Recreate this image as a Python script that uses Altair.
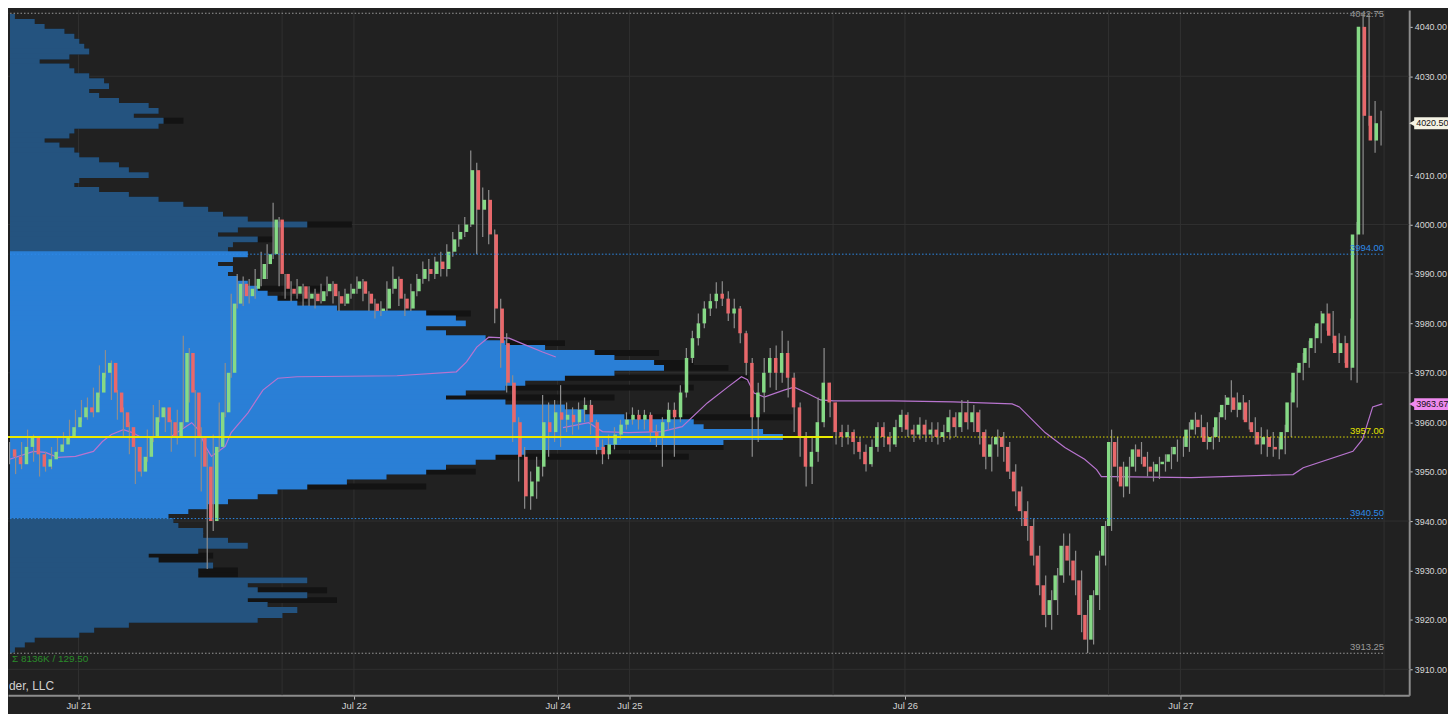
import altair as alt
import pandas as pd

# ---------------- data ----------------
# 30-minute OHLC bars (ES), sessions Jul 20 18:00 -> Jul 27 17:00
first_open = 3954.5

close_s1 = [3953, 3951.5, 3955, 3957, 3953.5, 3951, 3952.5, 3954, 3955.5, 3957,
            3959, 3961, 3963, 3962, 3966, 3970, 3972, 3966, 3962, 3959,
            3955, 3950, 3953, 3957, 3961, 3963, 3960, 3957, 3960, 3974,
            3966, 3957, 3951, 3940, 3955, 3962, 3970, 3984, 3988, 3985.5,
            3987, 3989, 3992, 3994, 4001, 3990]
high_s1 = [3956, 3954, 3956, 3958.5, 3957.5, 3954, 3954, 3955, 3957, 3958,
           3960.5, 3962.5, 3964.5, 3965, 3967, 3971.5, 3974.6, 3972.5, 3966.5, 3963,
           3960, 3955, 3955, 3958.5, 3963.5, 3964.5, 3963, 3960.5, 3962.5, 3977.5,
           3975, 3966.5, 3959, 3954, 3957.5, 3964, 3972, 3986, 3990, 3989.5,
           3989, 3991, 3994.5, 3996, 4004.4, 4001.5]
low_s1 = [3951.5, 3949.5, 3950.5, 3954, 3952, 3949, 3950, 3950.5, 3953.5, 3954.5,
          3956, 3958, 3960, 3960.5, 3961, 3965, 3969, 3964.5, 3960.5, 3957,
          3953.5, 3947.5, 3949, 3952, 3956, 3960, 3958, 3954, 3955.5, 3959,
          3964, 3953, 3946, 3930.3, 3938, 3954, 3961, 3969, 3983, 3983.5,
          3984, 3985, 3987.5, 3989, 3993, 3987.5]

close_s2 = [3987, 3986, 3987.5, 3985, 3986, 3984.5, 3986.5, 3988, 3985.5, 3984,
            3986, 3987, 3988.5, 3986, 3984, 3982.5, 3983, 3987, 3989, 3985,
            3983, 3986.5, 3989, 3991, 3990, 3992.5, 3991, 3994.5, 3997, 3998.5,
            4000, 4011, 4003, 4005, 3998, 3983, 3976, 3968, 3960, 3953,
            3945, 3948, 3951, 3960, 3958, 3962]
high_s2 = [3990, 3988.5, 3989, 3988, 3987.5, 3987, 3988, 3989.5, 3988.5, 3986.5,
           3987, 3988, 3989.5, 3989, 3986.5, 3985, 3984.5, 3988.5, 3991.5, 3989.5,
           3986, 3988, 3990, 3992.5, 3993, 3993.5, 3994.5, 3996, 3998.5, 4000,
           4001.5, 4015, 4012.5, 4007.5, 4007, 3999, 3985, 3978, 3969.5, 3961,
           3955, 3950, 3953, 3965.5, 3964, 3964.5]
low_s2 = [3985, 3984.5, 3985, 3983.5, 3983.5, 3983, 3984, 3985.5, 3984, 3982.5,
          3983.5, 3985, 3986, 3984.5, 3982.5, 3981, 3981.5, 3982.5, 3986, 3983.5,
          3981.5, 3982.5, 3985.5, 3988, 3988.5, 3989, 3989.5, 3989.5, 3993.5, 3995.5,
          3997.5, 3999.5, 3994, 3997.5, 3996, 3980, 3971, 3966, 3956, 3948,
          3942.5, 3942.3, 3944.5, 3949, 3953, 3956]

close_s3 = [3960.5, 3961.5, 3960, 3962.5, 3963.5, 3960, 3955, 3953.5, 3955.5, 3957.5,
            3959.5, 3960.5, 3961.5, 3960.5, 3961.5, 3958, 3957, 3960, 3962.5, 3961,
            3966, 3973, 3977, 3980, 3983, 3984.5, 3986, 3985, 3982, 3983,
            3978, 3972, 3961, 3966, 3970, 3973, 3970, 3974, 3969, 3963,
            3957, 3951, 3954, 3960, 3968, 3964]
high_s3 = [3967.5, 3964, 3963, 3964, 3965, 3964.5, 3960.5, 3956.5, 3957.5, 3959,
           3960.5, 3962, 3963, 3962.5, 3962.5, 3962, 3959.5, 3961, 3964, 3964,
           3967.5, 3975, 3978.5, 3982, 3984.5, 3986, 3988.3, 3988.5, 3986.5, 3985,
           3983.5, 3978.5, 3973, 3968, 3973, 3975, 3975.5, 3978.5, 3976.5, 3970,
           3964, 3958, 3957, 3965, 3975, 3967.5]
low_s3 = [3955, 3958, 3957.5, 3958.5, 3960, 3957.5, 3953.5, 3951.5, 3952.5, 3954.5,
          3956.5, 3958.5, 3959.5, 3958.5, 3958.5, 3956, 3955, 3951, 3958.5, 3953,
          3960, 3965, 3972, 3975.5, 3979, 3981.5, 3983, 3983.5, 3980.5, 3979,
          3976, 3969.5, 3953, 3956, 3962, 3967, 3966.5, 3968, 3965, 3958,
          3953, 3947, 3947.5, 3952, 3959, 3961]

close_s4 = [3958, 3957, 3958, 3956, 3954, 3951.5, 3955, 3959, 3957, 3955.5,
            3959, 3961.5, 3958.5, 3957.5, 3959.5, 3957.5, 3958.5, 3957, 3958, 3961,
            3959, 3962, 3960, 3962, 3958, 3953, 3955.5, 3957, 3955, 3950,
            3946, 3942, 3939, 3933, 3927, 3921, 3924, 3929, 3935, 3932,
            3928, 3921, 3916, 3925, 3933, 3939]
high_s4 = [3963, 3959.5, 3959.5, 3958.5, 3957, 3955.5, 3956.5, 3960, 3960, 3958,
           3960.5, 3962.5, 3962, 3959.5, 3961, 3960.5, 3960, 3960, 3959.5, 3962.5,
           3962, 3964.5, 3964.5, 3963.5, 3962.5, 3958.5, 3957, 3958.5, 3958, 3956,
           3951.5, 3947, 3944, 3940.5, 3935, 3929, 3926, 3930.5, 3937.5, 3937.5,
           3934, 3930, 3924, 3926, 3934, 3940]
low_s4 = [3955.5, 3955, 3955.5, 3953.5, 3952.5, 3950, 3951, 3954, 3955, 3954,
          3955, 3958, 3957, 3956, 3956.5, 3956, 3956, 3955.5, 3956, 3956.5,
          3957, 3958, 3958.5, 3958, 3955.5, 3950.5, 3950, 3953, 3952, 3948.5,
          3943, 3939, 3936, 3931, 3925, 3918.5, 3918, 3921, 3927.5, 3929,
          3925, 3917.5, 3913.25, 3915, 3922, 3931]

close_s5 = [3956, 3951, 3947, 3951, 3954.5, 3953, 3951, 3950, 3951.5, 3952,
            3953.5, 3955, 3955, 3958.5, 3960.5, 3959, 3956, 3957, 3961, 3963.5,
            3965, 3962.5, 3964, 3960, 3958, 3955.5, 3957, 3955, 3954.5, 3958,
            3964, 3970, 3972, 3975, 3977, 3980, 3982, 3977.5, 3974, 3976,
            3971, 3998, 4040, 4022, 4017, 4020.5]
high_s5 = [3958.5, 3957, 3952, 3953, 3955.5, 3956, 3954, 3952, 3953, 3953.5,
           3955, 3956.5, 3957, 3960, 3962, 3961.5, 3960, 3959, 3962, 3965.5,
           3968.5, 3966, 3965.5, 3964.5, 3961, 3959, 3958.5, 3958, 3957, 3959.5,
           3966, 3971, 3974, 3976.5, 3979.5, 3982.5, 3984, 3982.5, 3978, 3977.5,
           3981, 4000.5, 4042.75, 4042.5, 4025, 4023]
low_s5 = [3938, 3948, 3944.8, 3945.5, 3950, 3951.5, 3949, 3948, 3948.5, 3950,
          3950.5, 3952, 3953, 3954, 3957.5, 3957, 3954.5, 3954.5, 3956, 3960.5,
          3962, 3961, 3960.5, 3958.5, 3955.5, 3953.5, 3953, 3953, 3952.5, 3953.5,
          3957, 3963, 3968.5, 3971, 3974, 3976, 3978.5, 3976, 3972, 3972,
          3968.5, 3968, 3998, 4020, 4014.5, 4016]

# volume profile, 1-point bins from 4042 down to 3913 (thousands of contracts)
profile_top = 4042
profile_vol = [1, 5, 7, 11, 13, 14, 15, 16, 12,
               6, 12, 13, 16, 19, 20, 16, 18, 22, 28,
               30, 25, 31, 30, 13, 12, 7, 10, 13, 14,
               18, 22, 24, 28, 14, 13, 18, 24, 30, 35,
               40, 43, 48, 60, 46, 42, 50, 45, 44, 48,
               45, 42, 45, 44, 46, 48, 50, 52, 54, 58,
               66, 84, 90, 92, 84, 88, 96, 100, 108, 118,
               122, 130, 132, 122, 112, 104, 100, 92, 88, 100,
               112, 116, 124, 138, 140, 152, 156, 144, 120, 104,
               98, 94, 88, 84, 76, 68, 60, 54, 50, 44,
               40, 36, 32, 33, 34, 39, 39, 44, 48, 38,
               28, 30, 41, 38, 38, 60, 48, 50, 60, 48,
               52, 58, 55, 50, 24, 17, 14, 5, 3, 1,
               0.5]
# second (dark) profile where it reaches past the blue one
profile_dark = {4021: 35, 4000: 69, 3997: 53, 3987: 64, 3985: 60, 3982: 93,
                3976: 112, 3974: 131, 3972: 138, 3971: 145, 3969: 149, 3967: 138,
                3965: 122, 3961: 158, 3955: 144, 3953: 137, 3950: 94, 3947: 84,
                3933: 41, 3932: 40, 3930: 46, 3929: 46, 3926: 64, 3924: 66}
value_area = [3940.50, 3994.00]
profile_range = [3913.25, 4042.75]

# VWAP (bar index, price), two anchored segments
vwap1_bar = [0, 4, 6, 8, 11, 14, 15.5, 17, 19, 20.5, 22, 24, 27, 29.4, 30.4, 31.5,
             32.7, 33.7, 36, 37, 39.8, 42.3, 44.8, 48, 64.7, 74.6, 76.3, 78, 80,
             83.4, 86.2, 89, 91.2]
vwap1 = [3952.5, 3954.1, 3953.9, 3952.9, 3953.1, 3954.1, 3956.1, 3957.5, 3958.5,
         3957.9, 3956.9, 3956.9, 3957.1, 3959.1, 3959.9, 3958.5, 3955.1, 3953.1,
         3955.1, 3957.9, 3961.9, 3966.5, 3968.9, 3969.2, 3969.4, 3970.2, 3972.2,
         3975.2, 3977.2, 3977.0, 3975.6, 3974.2, 3973.2]
vwap2_bar = [92.4, 96.7, 99, 103.3, 108.9, 112.3, 116.5, 119.9, 122.2, 123.2,
             124.3, 126, 129.3, 131, 133.1, 135.4, 137.6, 147.5, 157.5, 167.4,
             168.6, 172.9, 176.2, 179.5, 181.5, 182.3, 184, 197.3, 214.3, 216,
             224.3, 225.9, 227.6, 229.2]
vwap2 = [3958.9, 3959.9, 3958.1, 3957.9, 3958.1, 3959.1, 3963.9, 3967.1, 3969.2, 3968.6,
         3965.9, 3965.1, 3966.5, 3967.1, 3965.9, 3964.5, 3964.3, 3964.3, 3964.1, 3963.7,
         3963.1, 3957.9, 3954.9, 3952.5, 3950.4, 3949.0, 3949.0, 3948.8, 3949.4, 3950.8,
         3954.1, 3956.5, 3963.1, 3963.7]

level_prices = [4042.75, 3994.00, 3957.00, 3940.50, 3913.25]
level_labels = ["4042.75", "3994.00", "3957.00", "3940.50", "3913.25"]
level_colors = ["#9a9a9a", "#2d8ae8", "#e4e400", "#2d8ae8", "#9a9a9a"]
poc_price = 3957.00
poc_solid_until = 69          # trading hour where the solid POC ends

tag_prices = [4020.50, 3963.67]
tag_labels = ["4020.50", "3963.67"]
tag_colors = ["#f4f3e4", "#ee8aee"]

day_ticks = [6, 29, 46, 52, 75, 98]          # trading hours since first open
day_labels = ["Jul 21", "Jul 22", "Jul 24", "Jul 25", "Jul 26", "Jul 27"]
session_lines = [6, 23, 29, 46, 52, 69, 75, 92, 98, 115]
price_grid = [3910, 3940, 3970, 4000, 4030]
price_ticks = [3910, 3920, 3930, 3940, 3950, 3960, 3970, 3980, 3990, 4000,
               4010, 4030, 4040]          # 4020.00 is hidden by the price tag

stats_text = "\u03a3  8136K / 129.50"
copyright_text = "der, LLC"               # visible (cut) part of the watermark

# ---------------- tables ----------------
closes = close_s1 + close_s2 + close_s3 + close_s4 + close_s5
highs_r = high_s1 + high_s2 + high_s3 + high_s4 + high_s5
lows_r = low_s1 + low_s2 + low_s3 + low_s4 + low_s5
n = len(closes)
opens = [first_open] + closes[:-1]
bar_len = 0.5
hours = [bar_len * (i + 0.5) for i in range(n)]
bars = pd.DataFrame({
    "h": hours, "open": opens, "close": closes,
    "high": [max(h, o, c) for h, o, c in zip(highs_r, opens, closes)],
    "low": [min(l, o, c) for l, o, c in zip(lows_r, opens, closes)],
})
bars["col"] = ["#86d986" if c >= o else "#e8686b" for o, c in zip(opens, closes)]
h_end = hours[-1] + bar_len / 2
h_start = 0.0

prices = [profile_top - k for k in range(len(profile_vol))]
overlap = 0.6   # half-height of a bin, slightly more than 0.5 so bins touch
prof = pd.DataFrame({
    "p": prices,
    "lo": [max(p - overlap, profile_range[0]) for p in prices],
    "hi": [min(p + overlap, profile_range[1]) for p in prices],
    "vol": profile_vol,
    "base": 0.0,
})
prof["col"] = ["#2a7fd6" if value_area[0] <= p <= value_area[1] else "#24537f"
               for p in prices]
dark = prof.copy()
dark["vol"] = [max(v, profile_dark.get(p, 0)) for p, v in zip(prices, profile_vol)]

vw = pd.DataFrame({
    "h": [bar_len * (b + 0.5) for b in vwap1_bar] + [bar_len * (b + 0.5) for b in vwap2_bar],
    "v": vwap1 + vwap2,
    "seg": ["a"] * len(vwap1) + ["b"] * len(vwap2),
})

lev = pd.DataFrame({"p": level_prices, "lab": level_labels, "col": level_colors,
                    "x0": h_start, "x1": h_end})
lev_top = lev.iloc[:1]
lev_rest = lev.iloc[1:]
poc_df = pd.DataFrame({"p": [poc_price], "x0": [h_start], "x1": [poc_solid_until]})
tags = pd.DataFrame({"p": tag_prices, "lab": tag_labels, "col": tag_colors})
tags["lo"] = tags["p"] - 1.2
tags["hi"] = tags["p"] + 1.2
vgrid = pd.DataFrame({"h": session_lines})
hgrid = pd.DataFrame({"p": price_grid})
one = pd.DataFrame({"a": [0]})

# ---------------- scales ----------------
W, H = 1409, 689
xs = alt.Scale(domain=[0.116, 117.10], nice=False, zero=False)
ys = alt.Scale(domain=[3904.77, 4043.42], nice=False, zero=False)
vs = alt.Scale(domain=[-0.4, 282.4], nice=False, zero=False)
FONT = "Liberation Sans, Arial, sans-serif"

label_expr = "".join(f"datum.value == {t} ? '{l}' : " for t, l in zip(day_ticks, day_labels)) + "''"

x_axis = alt.Axis(values=day_ticks, labelExpr=label_expr, grid=False, title=None,
                  domainColor="#8c8c8c", domainWidth=2, tickColor="#bdbdbd", tickSize=4,
                  labelColor="#d2d2d2", labelFontSize=9.5, labelPadding=1, labelFont=FONT,
                  labelFlush=False)
y_axis = alt.Axis(orient="right", values=price_ticks, format=".2f", grid=False, title=None,
                  domainColor="#8c8c8c", domainWidth=2, tickColor="#cfcfcf", tickSize=3,
                  labelColor="#d6d6d6", labelFontSize=9, labelPadding=2, labelFont=FONT)

Xt = lambda f, axis=None: alt.X(f, type="quantitative", scale=xs, axis=axis)
Yp = lambda f, axis=None: alt.Y(f, type="quantitative", scale=ys, axis=axis)

grid_v = alt.Chart(vgrid).mark_rule(color="#303030", strokeWidth=1).encode(x=Xt("h"))
grid_h = alt.Chart(hgrid).mark_rule(color="#303030", strokeWidth=1).encode(y=Yp("p"))

prof_dark = alt.Chart(dark).mark_rect(color="#131313").encode(
    x=alt.X("base:Q", scale=vs, axis=None), x2="vol:Q", y=Yp("lo"), y2="hi:Q")
prof_blue = alt.Chart(prof).mark_rect().encode(
    x=alt.X("base:Q", scale=vs, axis=None), x2="vol:Q", y=Yp("lo"), y2="hi:Q",
    color=alt.Color("col:N", scale=None))

vwap_line = alt.Chart(vw).mark_line(color="#b874cf", strokeWidth=1.2).encode(
    x=Xt("h"), y=Yp("v"), detail="seg:N")

wicks = alt.Chart(bars).mark_rule(color="#8e8e8e", strokeWidth=1.2).encode(
    x=Xt("h", x_axis), y=Yp("low", y_axis), y2="high:Q")
bodies = alt.Chart(bars).mark_bar(size=3.5).encode(
    x=Xt("h"), y=Yp("open"), y2="close:Q", color=alt.Color("col:N", scale=None))

lev_lines = alt.Chart(lev).mark_rule(strokeDash=[1.5, 2], strokeWidth=1).encode(
    x=Xt("x0"), x2="x1:Q", y=Yp("p"), color=alt.Color("col:N", scale=None))
poc_line = alt.Chart(poc_df).mark_rule(color="#eaea00", strokeWidth=2).encode(
    x=Xt("x0"), x2="x1:Q", y=Yp("p"))
lev_text = alt.Chart(lev_rest).mark_text(align="right", baseline="bottom", dy=-1, fontSize=9.5,
                                         font=FONT).encode(
    x=Xt("x1"), y=Yp("p"), text="lab:N", color=alt.Color("col:N", scale=None))
lev_text_top = alt.Chart(lev_top).mark_text(align="right", baseline="top", dy=-4, fontSize=9.5,
                                            font=FONT).encode(
    x=Xt("x1"), y=Yp("p"), text="lab:N", color=alt.Color("col:N", scale=None))

tag_rect = alt.Chart(tags).mark_rect().encode(
    x=alt.value(W + 5), x2=alt.value(W + 40), y=Yp("lo"), y2="hi:Q",
    color=alt.Color("col:N", scale=None))
tag_tip = alt.Chart(tags).mark_point(shape="triangle-left", filled=True, size=45, opacity=1).encode(
    x=alt.value(W + 3), y=Yp("p"), color=alt.Color("col:N", scale=None))
tag_text = alt.Chart(tags).mark_text(align="left", baseline="middle", fontSize=9,
                                     font=FONT, color="#111111").encode(
    x=alt.value(W + 7), y=Yp("p"), text="lab:N")

stats = alt.Chart(one).mark_text(align="left", baseline="middle", fontSize=10, font=FONT,
                                 color="#2a8c2a").encode(
    x=alt.value(4), y=alt.value(653), text=alt.value(stats_text))
copyright = alt.Chart(one).mark_text(align="left", baseline="middle", fontSize=12,
                                     font=FONT, color="#d0d0d0").encode(
    x=alt.value(1), y=alt.value(680), text=alt.value(copyright_text))

chart = alt.layer(
    grid_v, grid_h, prof_dark, prof_blue, vwap_line, wicks, bodies,
    lev_lines, poc_line, lev_text, lev_text_top, tag_rect, tag_tip, tag_text, stats, copyright
).resolve_scale(x="independent", y="independent").properties(
    width=W, height=H,
    padding={"left": 0, "top": 0, "right": 39, "bottom": 17},
    autosize=alt.AutoSizeParams(type="none"),
).configure(background="#212121").configure_view(strokeWidth=0)

chart.save("out.html", embed_options={"renderer": "svg", "actions": False})
